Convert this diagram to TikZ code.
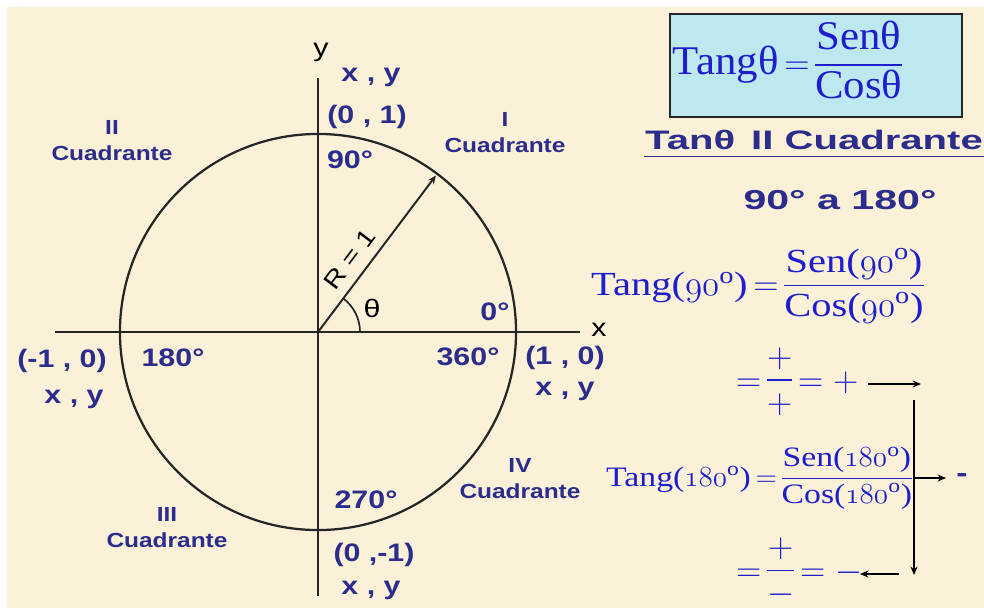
\documentclass[tikz,border=0pt]{standalone}
\usepackage{fontspec}
\usepackage{graphicx}
\usetikzlibrary{arrows.meta}
\newfontfamily\labfont[FakeStretch=1.2]{Liberation Sans}
\newfontfamily\headfont[FakeStretch=1.5]{Liberation Sans}
\newfontfamily\eqfont[FakeStretch=1.2]{Liberation Serif}
\newfontfamily\boxfont[FakeStretch=1.05]{Liberation Serif}
\definecolor{navy}{RGB}{44,44,140}
\definecolor{eqblue}{RGB}{30,30,205}
\definecolor{parch}{RGB}{250,241,216}
\definecolor{boxcyan}{RGB}{190,232,240}
\newcommand\osn[1]{{\usefont{OML}{cmm}{m}{it}#1}}
\newcommand\fr[3][0pt]{$\vcenter{\offinterlineskip\halign{\hfil##\hfil\cr\strut #2\cr
  \noalign{\kern1pt\hrule height 1pt\kern#1}\strut #3\cr}}$}

\begin{document}
\begin{tikzpicture}[x=0.025cm,y=-0.025cm,line width=1.6pt,>={Stealth[length=6pt,width=5pt]}]
\tikzset{lab/.style={text=navy,font=\labfont\bfseries\fontsize{18}{21}\selectfont,inner sep=0pt},
  quad/.style={lab,font=\labfont\bfseries\fontsize{14.5}{18.5}\selectfont,align=center},
  axlab/.style={font=\labfont\fontsize{18}{20}\selectfont,inner sep=0pt},
  eq/.style={text=eqblue,font=\eqfont\fontsize{24}{26}\selectfont,inner sep=0pt,anchor=west},
  sgn/.style={line width=1pt,->}}
% ---------- background ----------
\useasboundingbox (0,0) rectangle (984,608);
\fill[white] (0,0) rectangle (984,608);
\fill[parch] (7,7) rectangle (984,608);
% ---------- unit circle and axes ----------
\coordinate (O) at (318,332);
\draw[black!85] (O) circle (4.95cm);
\draw[black!85] (55,332) -- (580,332);
\draw[black!85] (318,78) -- (318,596);
\node[axlab] (xlab) at (599,330) {x};
\node[axlab] (ylab) at (321,52) {y};
\draw[black!85,line width=1.4pt,->] (O) -- ++(-53:196) coordinate (Rend);
\draw[black!85,line width=1.2pt] (O) ++(42,0) arc (0:-53:42);
\node[axlab,rotate=53,font=\labfont\fontsize{17}{19}\selectfont] (rlab) at (350,259) {R = 1};
\node[axlab] (theta) at (372,308) {θ};
% ---------- points on the circle ----------
\node[lab] (xyT) at (371,77) {x , y};
\node[lab] (pT) at (367,117) {(0 , 1)};
\node[lab] (d90) at (350,160) {90°};
\node[lab] (d0) at (495,312) {0°};
\node[lab] (d360) at (468,357) {360°};
\node[lab] (pR) at (565,358) {(1 , 0)};
\node[lab] (xyR) at (565,391) {x , y};
\node[lab] (pL) at (62,361) {(-1 , 0)};
\node[lab] (xyL) at (74,399) {x , y};
\node[lab] (d180) at (173,358) {180°};
\node[lab] (d270) at (366,500) {270°};
\node[lab] (pB) at (374,555) {(0 ,-1)};
\node[lab] (xyB) at (371,590) {x , y};
% ---------- quadrants ----------
\node[quad] (qI) at (505,133) {I\\Cuadrante};
\node[quad] (qII) at (112,141) {II\\Cuadrante};
\node[quad] (qIII) at (167,528) {III\\Cuadrante};
\node[quad] (qIV) at (520,479) {IV\\Cuadrante};
% ---------- right side ----------
\node[draw=black!85,fill=boxcyan,line width=1.2pt,text width=7.15cm,inner xsep=0.075cm,align=left,
  minimum height=2.575cm,text=eqblue,font=\boxfont\fontsize{29}{31}\selectfont] (defbox) at (816,65.5)
  {Tangθ$\,=\,$\fr[2pt]{Senθ}{Cosθ}};
\node[text=navy,font=\headfont\bfseries\fontsize{19}{21}\selectfont,inner sep=0pt] (title) at (814,140)
  {Tanθ\hspace{0.6em}II Cuadrante};
\draw[navy,line width=1.3pt] ([yshift=-4pt]title.south west) -- ([yshift=-4pt]title.south east);
\node[text=navy,font=\headfont\bfseries\fontsize{19.5}{21}\selectfont,inner sep=0pt] (range) at (840,200)
  {90° a 180°};
\node[eq] (eqA) at (590,287) {Tang(\osn{90}\textsuperscript{o})$\,=\,$\fr[3pt]{Sen(\osn{90}\textsuperscript{o})}{Cos(\osn{90}\textsuperscript{o})}};
\node[eq] (eqB) at (735,383) {$=\,$\fr[5pt]{$+$}{$+$}$\,=+$};
\node[eq,font=\eqfont\fontsize{20}{22}\selectfont] (eqC) at (605,479) {Tang(\osn{180}\textsuperscript{o})$\,=\,$\fr[2pt]{Sen(\osn{180}\textsuperscript{o})}{Cos(\osn{180}\textsuperscript{o})}};
\node[eq] (eqD) at (735,573) {$=\,$\fr[5pt]{$+$}{$-$}$\,=-$};
\node[lab,font=\labfont\bfseries\fontsize{20}{22}\selectfont] (minus) at (962,478) {-};
% ---------- sign arrows ----------
\coordinate (aS) at (868,384);
\coordinate (aE) at (921,384);
\coordinate (vT) at (914,400);
\coordinate (vM) at (914,478);
\coordinate (vB) at (914,575);
\coordinate (mE) at (946,478);
\coordinate (bS) at (899,574);
\coordinate (bE) at (860,574);
\draw[sgn] (aS) -- (aE);
\draw[sgn] (vT) -- (vB);
\draw[sgn] (vM) -- (mE);
\draw[sgn] (bS) -- (bE);
\end{tikzpicture}
\end{document}
